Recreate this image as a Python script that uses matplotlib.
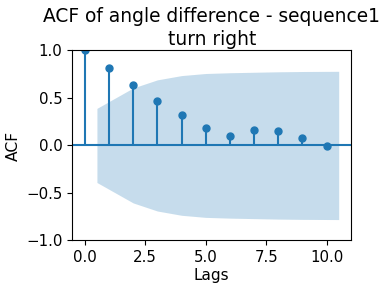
import numpy as np
import matplotlib
matplotlib.use("Agg")
import matplotlib.pyplot as plt

# autocorrelation values
lags = [0, 1, 2, 3, 4, 5, 6, 7, 8, 9, 10]
acf_vals = [1.0, 0.818, 0.639, 0.47, 0.323, 0.186, 0.10, 0.165, 0.155, 0.08, -0.005]

# confidence band half-width (lags 1..10), band x runs 0.5 .. 10.5
band_x = [0.5, 2, 3, 4, 5, 6, 7, 8, 9, 10.5]
band_half = [0.39, 0.605, 0.69, 0.735, 0.757, 0.765, 0.77, 0.775, 0.778, 0.78]

xticks = [0.0, 2.5, 5.0, 7.5, 10.0]
yticks = [-1.0, -0.5, 0.0, 0.5, 1.0]

plt.rcParams['font.size'] = 10.8

fig = plt.figure(figsize=(3.9, 2.88), dpi=100)
ax = fig.add_axes([0.185, 0.165, 0.716, 0.66])

ax.vlines(lags, 0, acf_vals, color='C0')
ax.axhline(0, color='C0')
ax.plot(lags, acf_vals, 'o', color='C0', markersize=5)
ax.fill_between(band_x, -np.array(band_half), band_half, alpha=0.25, color='C0', lw=0)

ax.margins(0.05)
ax.set_ylim(-1, 1)
ax.set_xticks(xticks)
ax.set_yticks(yticks)
ax.set_title('ACF of angle difference - sequence1\nturn right', fontsize=13.4, pad=3.6,
             linespacing=1.3)
ax.set_xlabel('Lags', fontsize=11, labelpad=2)
ax.set_ylabel('ACF', fontsize=11.2)

fig.savefig('out.png', dpi=100)
